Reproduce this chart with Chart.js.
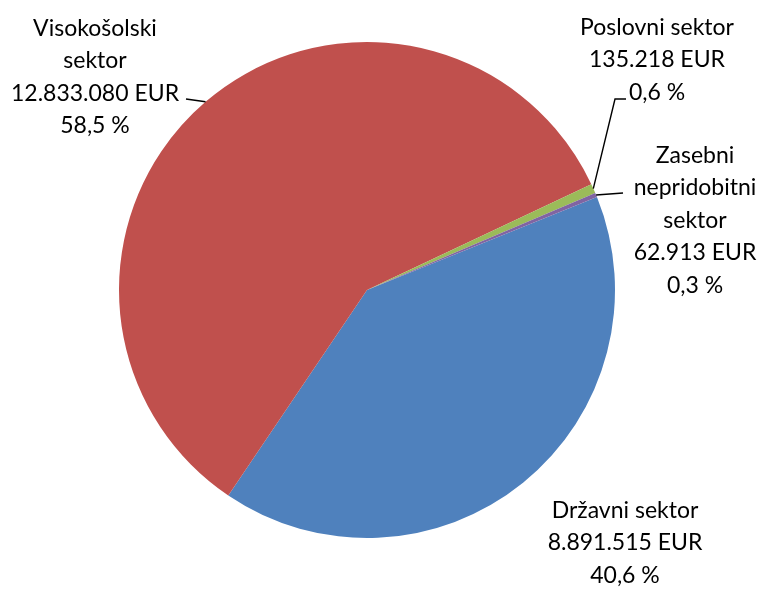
<!DOCTYPE html>
<html>
<head>
<meta charset="utf-8">
<script src="https://cdn.jsdelivr.net/npm/chart.js@4.4.0/dist/chart.umd.min.js"></script>
<style>
  html, body { margin: 0; padding: 0; background: #fff; }
  #wrap { width: 766px; height: 590px; }
</style>
</head>
<body>
<div id="wrap"><canvas id="myChart" width="766" height="590"></canvas></div>
<script>
// podatki (vrstni red kot v Excelu, v smeri urinega kazalca)
const categories = [
  ['Državni sektor'],
  ['Visokošolski', 'sektor'],
  ['Poslovni sektor'],
  ['Zasebni', 'nepridobitni', 'sektor']
];
const values = [8891515, 12833080, 135218, 62913];
const colors = ['#4F81BD', '#C0504D', '#9BBB59', '#8064A2'];

const total = values.reduce((a, b) => a + b, 0);
const fmtEur = (v) => v.toString().replace(/\B(?=(\d{3})+(?!\d))/g, '.') + ' EUR';
const fmtPct = (v) => (v / total * 100).toFixed(1).replace('.', ',') + ' %';

// postavitev oznak: sredina besedila, prva osnovna črta, vodilna črta
const labelLayout = [
  { x: 625, y: 518, leader: null },
  { x: 95, y: 36, leader: [[186, 99]] },
  { x: 657, y: 35, leader: [[615, 99], [626, 99]] },
  { x: 695, y: 163, leader: [[623, 193]] }
];

const pieLabels = {
  id: 'pieLabels',
  afterDatasetsDraw(chart) {
    const ctx = chart.ctx;
    const arcs = chart.getDatasetMeta(0).data;
    ctx.save();
    ctx.fillStyle = '#000';
    ctx.strokeStyle = '#000';
    ctx.lineWidth = 1.4;
    ctx.font = '23px Lato';
    ctx.textAlign = 'center';
    ctx.textBaseline = 'alphabetic';
    arcs.forEach((arc, i) => {
      const lay = labelLayout[i];
      const lines = [...categories[i], fmtEur(values[i]), fmtPct(values[i])];
      lines.forEach((t, k) => ctx.fillText(t, lay.x, lay.y + k * 32.4));
      if (lay.leader) {
        const mid = (arc.startAngle + arc.endAngle) / 2;
        ctx.beginPath();
        ctx.moveTo(arc.x + Math.cos(mid) * arc.outerRadius, arc.y + Math.sin(mid) * arc.outerRadius);
        lay.leader.forEach(p => ctx.lineTo(p[0], p[1]));
        ctx.stroke();
      }
    });
    ctx.restore();
  }
};

new Chart(document.getElementById('myChart'), {
  type: 'pie',
  data: {
    labels: categories,
    datasets: [{
      data: values,
      backgroundColor: colors,
      borderWidth: 0
    }]
  },
  options: {
    responsive: false,
    animation: false,
    rotation: 68,
    layout: { padding: { left: 119, right: 151, top: 42, bottom: 52 } },
    plugins: {
      legend: { display: false },
      tooltip: { enabled: false }
    }
  },
  plugins: [pieLabels]
});
</script>
</body>
</html>
